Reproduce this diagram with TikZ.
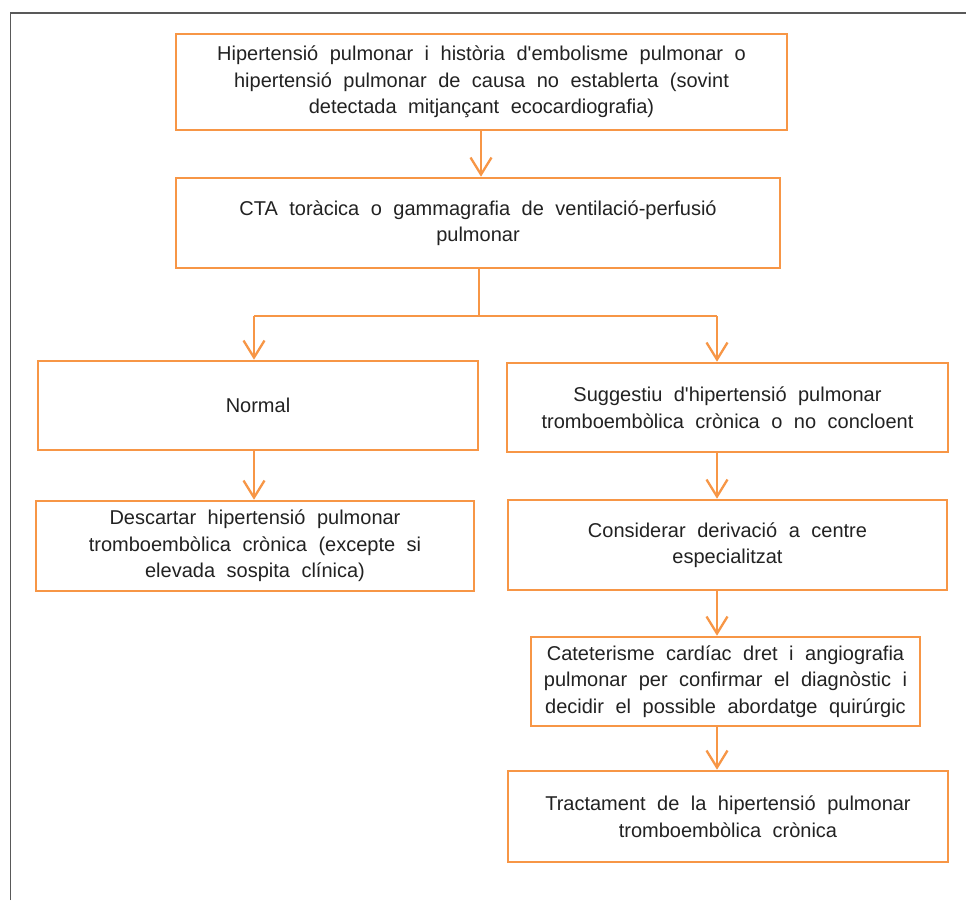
\documentclass[tikz,border=0pt]{standalone}
\usepackage{fontspec}
\setmainfont{Liberation Sans}
\usetikzlibrary{arrows.meta}
\definecolor{boxorange}{HTML}{F79646}
\definecolor{framegrey}{HTML}{595959}
\definecolor{txt}{HTML}{222222}
\newcommand\boxfontsetup{\fontsize{20}{26.5}\selectfont\spaceskip=11.5pt plus 0pt minus 0pt\relax}
\begin{document}
\begin{tikzpicture}[x=1pt,y=-1pt,
  flowbox/.style={draw=boxorange, line width=2.6pt, fill=white, inner sep=0pt,
    align=center, text=txt, font={\boxfontsetup}},
  link/.style={draw=boxorange, line width=2.3pt},
  arr/.style={link, -{Straight Barb[length=17pt,width=21pt,line width=2.3pt]}}
]
\useasboundingbox (0,0) rectangle (966,900);
\fill[white] (0,0) rectangle (966,900);
% outer frame (left and top edges visible)
\draw[framegrey, line width=1.6pt] (10.5,900) -- (10.5,13) -- (966,13);

\node[flowbox, minimum width=611pt, minimum height=96pt] (b1) at (481.5,82)
  {Hipertensió pulmonar i història d\textquotesingle embolisme pulmonar o\\
   hipertensió pulmonar de causa no establerta (sovint\\
   detectada mitjançant ecocardiografia)};
\node[flowbox, minimum width=604pt, minimum height=90pt] (b2) at (478,223)
  {CTA toràcica o gammagrafia de ventilació-perfusió\\ pulmonar};
\node[flowbox, minimum width=440pt, minimum height=89pt] (n) at (258,405.5)
  {Normal};
\node[flowbox, minimum width=441pt, minimum height=89pt] (s) at (727.5,407.5)
  {Suggestiu d\textquotesingle hipertensió pulmonar\\ tromboembòlica crònica o no concloent};
\node[flowbox, minimum width=438pt, minimum height=90pt] (d) at (255,546)
  {Descartar hipertensió pulmonar\\ tromboembòlica crònica (excepte si\\ elevada sospita clínica)};
\node[flowbox, minimum width=439pt, minimum height=90pt] (c) at (727.5,545)
  {Considerar derivació a centre\\ especialitzat};
\node[flowbox, minimum width=389pt, minimum height=89pt] (k) at (725.5,681.5)
  {Cateterisme cardíac dret i angiografia\\ pulmonar per confirmar el diagnòstic i\\ decidir el possible abordatge quirúrgic};
\node[flowbox, minimum width=440pt, minimum height=91pt] (t) at (728,816.5)
  {Tractament de la hipertensió pulmonar\\ tromboembòlica crònica};

\coordinate (aT) at (481,0);
\coordinate (jL) at (254,316);
\coordinate (jR) at (717,316);
\coordinate (jM) at (479,316);

\draw[arr] (b1.south -| aT) -- (b2.north -| aT);
\draw[link] (b2.south -| jM) -- (jM);
\draw[link] (jL) -- (jR);
\draw[arr] (jL) -- (jL |- n.north);
\draw[arr] (jR) -- (jR |- s.north);
\draw[arr] (jL |- n.south) -- (jL |- d.north);
\draw[arr] (jR |- s.south) -- (jR |- c.north);
\draw[arr] (jR |- c.south) -- (jR |- k.north);
\draw[arr] (jR |- k.south) -- (jR |- t.north);
\end{tikzpicture}
\end{document}
